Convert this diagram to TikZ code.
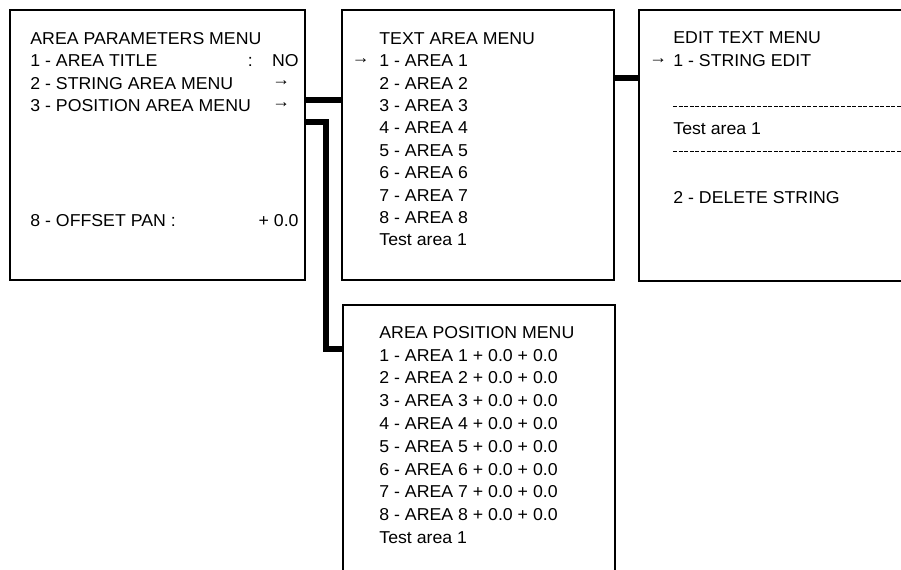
\documentclass[tikz,border=0pt]{standalone}
\usepackage{fontspec}
\setmainfont{Liberation Sans}[FakeStretch=1.03]
\usetikzlibrary{positioning, calc}
\newcommand{\selarrow}{\raisebox{1.8pt}{→}}

\begin{document}
\begin{tikzpicture}[
    x=0.5pt, y=-0.5pt,
    menubox/.style={rectangle, draw, line width=1pt, anchor=north west,
                    inner sep=0pt, outer sep=0pt},
    entry/.style={anchor=base west, inner sep=0pt, font=\fontsize{8.6}{10}\selectfont},
    link/.style={line width=3pt},
    rule/.style={line width=0.5pt, dash pattern=on 2pt off 0.8pt},
]
    \useasboundingbox (0,0) rectangle (901,569);
    \clip (0,0) rectangle (901,569);

    % Menu boxes
    \node[menubox, minimum width=147.5pt, minimum height=135pt] (area) at (10,9.5) {};
    \node[menubox, minimum width=136pt, minimum height=135.25pt] (textmenu) at (342,9.5) {};
    \node[menubox, minimum width=145.5pt, minimum height=135.75pt] (editmenu) at (639,9.5) {};
    \node[menubox, minimum width=135.75pt, minimum height=147.75pt] (posmenu) at (343,304.5) {};

    % Area parameters menu
    \foreach \txt [count=\i from 0] in {AREA PARAMETERS MENU, 1 - AREA TITLE,
        2 - STRING AREA MENU, 3 - POSITION AREA MENU}
        \node[entry] (a\i) at (30,44.3+22.4*\i) {\txt};
    \node[entry] (a1c) at (247.5,66.7) {:};
    \node[entry, anchor=base east] (a1v) at (299,66.7) {NO};
    \node[entry] (a2v) at (272,89.1) {\selarrow};
    \node[entry] (a3v) at (272,111.5) {\selarrow};
    \node[entry] (a8) at (30,226.7) {8 - OFFSET PAN :};
    \node[entry, anchor=base east] (a8v) at (299,226.7) {+ 0.0};

    % Text area menu
    \foreach \txt [count=\i from 0] in {TEXT AREA MENU, 1 - AREA 1, 2 - AREA 2,
        3 - AREA 3, 4 - AREA 4, 5 - AREA 5, 6 - AREA 6, 7 - AREA 7, 8 - AREA 8,
        Test area 1}
        \node[entry] (t\i) at (379,44.3+22.4*\i) {\txt};
    \node[entry] (tsel) at (351.5,66.7) {\selarrow};

    % Edit text menu
    \node[entry] (e0) at (673,43.5) {EDIT TEXT MENU};
    \node[entry] (esel) at (649,66.7) {\selarrow};
    \node[entry] (e1) at (673,66.7) {1 - STRING EDIT};
    \node[entry] (e2) at (673,134.5) {Test area 1};
    \node[entry] (e3) at (673,203) {2 - DELETE STRING};
    \draw[rule] (e1.west |- 0,106) -- (editmenu.east |- 0,106);
    \draw[rule] (e1.west |- 0,151.7) -- (editmenu.east |- 0,151.7);

    % Area position menu
    \foreach \txt [count=\i from 0] in {AREA POSITION MENU,
        1 - AREA 1 + 0.0 + 0.0, 2 - AREA 2 + 0.0 + 0.0, 3 - AREA 3 + 0.0 + 0.0,
        4 - AREA 4 + 0.0 + 0.0, 5 - AREA 5 + 0.0 + 0.0, 6 - AREA 6 + 0.0 + 0.0,
        7 - AREA 7 + 0.0 + 0.0, 8 - AREA 8 + 0.0 + 0.0, Test area 1}
        \node[entry] (p\i) at (379,338.3+22.8*\i) {\txt};

    % Links
    \draw[link] ([yshift=-45.25pt]area.north east) -- ([yshift=-45.25pt]textmenu.north west);
    \draw[link] ([yshift=-56.25pt]area.north east)
        -| ([xshift=-8.5pt, yshift=-22.25pt]posmenu.north west)
        -- ([yshift=-22.25pt]posmenu.north west);
    \draw[link] ([yshift=-34pt]textmenu.north east) -- ([yshift=-34pt]editmenu.north west);
\end{tikzpicture}
\end{document}
